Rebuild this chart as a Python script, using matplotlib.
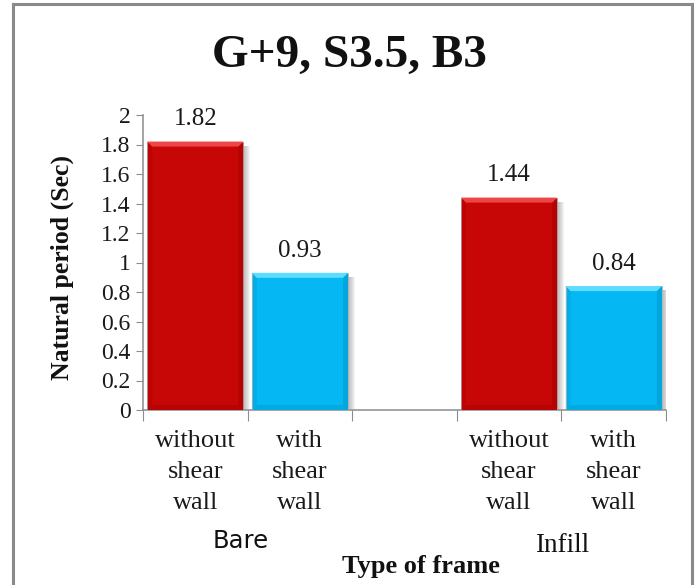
import matplotlib
matplotlib.use("Agg")
import matplotlib.pyplot as plt
from matplotlib.patches import Polygon, Rectangle
from matplotlib.transforms import blended_transform_factory

# ---- data -------------------------------------------------------------
frame_types = ["Bare", "Infill"]
bar_labels = ["without\nshear\nwall", "with\nshear\nwall",
              "without\nshear\nwall", "with\nshear\nwall"]
periods = [1.82, 0.93, 1.44, 0.84]
bar_slots = [0, 1, 3, 4]          # slot 2 is the empty spacer between groups
y_ticks = [0, 0.2, 0.4, 0.6, 0.8, 1, 1.2, 1.4, 1.6, 1.8, 2]
y_tick_labels = ["0", "0.2", "0.4", "0.6", "0.8", "1", "1.2", "1.4", "1.6", "1.8", "2"]

face_colors = ["#C70606", "#05B7F2", "#C70606", "#05B7F2"]
light_colors = ["#EE4545", "#5EDCFF", "#EE4545", "#5EDCFF"]
dark_colors = ["#9E0000", "#0092C4", "#9E0000", "#0092C4"]

SERIF = "Liberation Serif"
TXT = "#1A1A1A"
W, H = 698, 585
fig = plt.figure(figsize=(W / 100, H / 100), dpi=100)
fig.patch.set_facecolor("white")

# outer chart border (top, left, right)
border = dict(color="#8A8A8A", lw=2.2, transform=fig.transFigure, clip_on=False)
fig.add_artist(plt.Line2D([13 / W, 13 / W], [0, 1 - 4 / H], **border))
fig.add_artist(plt.Line2D([692 / W, 692 / W], [0, 1 - 4 / H], **border))
fig.add_artist(plt.Line2D([13 / W, 692 / W], [1 - 4 / H, 1 - 4 / H], **border))

ax_l, ax_r, ax_b, ax_t = 143, 666, 410, 115
ax = fig.add_axes([ax_l / W, 1 - ax_b / H, (ax_r - ax_l) / W, (ax_b - ax_t) / H])
ax.set_xlim(-0.5, 4.5)
ax.set_ylim(0, 2)

px_x = 5.0 / (ax_r - ax_l)        # data units per pixel
px_y = 2.0 / (ax_b - ax_t)

width = 0.92
bars = ax.bar(bar_slots, periods, width=width, color=face_colors,
              edgecolor="#B8B8B8", linewidth=0.6, zorder=3)

for rect, light, dark in zip(bars, light_colors, dark_colors):
    x0 = rect.get_x()
    x1 = x0 + rect.get_width()
    h = rect.get_height()
    # soft drop shadow to the right
    for k in range(7):
        ax.add_patch(Rectangle((x1, 0), (7 - k) * px_x, h - 4 * px_y,
                               facecolor="#606060", alpha=0.07,
                               edgecolor="none", zorder=2))
    bx, by = 5 * px_x, 5 * px_y
    # bevelled edges
    ax.add_patch(Polygon([(x0, 0), (x0 + bx, by), (x0 + bx, h - by), (x0, h)],
                         closed=True, facecolor=dark, alpha=0.25,
                         edgecolor="none", zorder=4))
    ax.add_patch(Polygon([(x1, 0), (x1 - bx, by), (x1 - bx, h - by), (x1, h)],
                         closed=True, facecolor=dark, alpha=0.45,
                         edgecolor="none", zorder=4))
    ax.add_patch(Polygon([(x0, 0), (x1, 0), (x1 - bx, by), (x0 + bx, by)],
                         closed=True, facecolor=dark, alpha=0.35,
                         edgecolor="none", zorder=4))
    ax.add_patch(Polygon([(x0, h), (x1, h), (x1 - bx, h - by), (x0 + bx, h - by)],
                         closed=True, facecolor=light, edgecolor="none", zorder=4))
    ax.annotate(f"{h:.2f}", (rect.get_x() + rect.get_width() / 2, h),
                xytext=(0, 8), textcoords="offset points",
                ha="center", va="bottom", fontsize=18, family=SERIF,
                color=TXT, zorder=5)

# axes styling
for side in ("top", "right"):
    ax.spines[side].set_visible(False)
for side in ("left", "bottom"):
    ax.spines[side].set_color("#8C8C8C")
    ax.spines[side].set_linewidth(1.1)
ax.set_yticks(y_ticks)
ax.set_yticklabels(y_tick_labels, family=SERIF, fontsize=17, color=TXT)
ax.tick_params(axis="y", direction="out", length=5, color="#8C8C8C", pad=4)
ax.set_xticks([-0.5, 0.5, 1.5, 2.5, 3.5, 4.5])
ax.set_xticklabels([])
ax.tick_params(axis="x", direction="out", length=8, color="#8C8C8C")

# category labels
cat_tr = blended_transform_factory(ax.transData, fig.transFigure)
for slot, lab in zip(bar_slots, bar_labels):
    ax.text(slot, 1 - 430 / H, lab, transform=cat_tr,
            ha="center", va="top", fontsize=19, family=SERIF, color=TXT,
            linespacing=1.53)

# group labels
fig.text(241 / W, 1 - 541 / H, frame_types[0], ha="center", va="center",
         fontsize=17.5, family="DejaVu Sans", color="#111111")
fig.text(562 / W, 1 - 545 / H, frame_types[1], ha="center", va="center",
         fontsize=19.5, family=SERIF, color="#111111")

fig.text(421 / W, 1 - 566 / H, "Type of frame", ha="center", va="center",
         fontsize=19, family=SERIF, fontweight="bold", color="#111111")
fig.text(62 / W, 1 - 268 / H, "Natural period (Sec)", ha="center", va="center",
         rotation=90, fontsize=18.5, family=SERIF, fontweight="bold", color="#111111")
fig.text(349 / W, 1 - 56 / H, "G+9, S3.5, B3", ha="center", va="center",
         fontsize=34, family=SERIF, fontweight="bold", color="#111111")

fig.savefig("out.png", dpi=100, facecolor="white")
